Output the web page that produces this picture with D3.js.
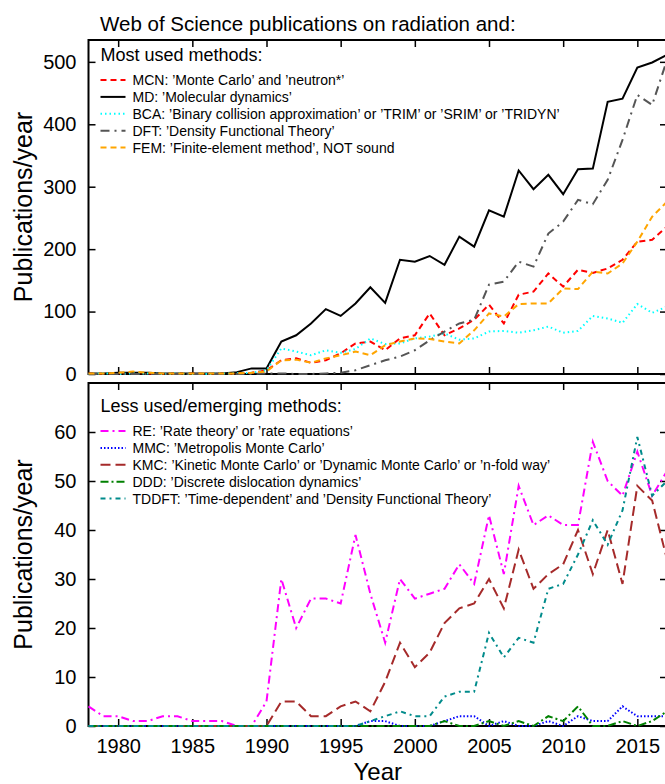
<!DOCTYPE html>
<html>
<head>
<meta charset="utf-8">
<script src="https://cdn.jsdelivr.net/npm/d3@7"></script>
<style>
  html, body { margin: 0; padding: 0; background: #fff; }
  svg { display: block; font-family: "Liberation Sans", Arial, Helvetica, sans-serif; }
</style>
</head>
<body>
<svg id="chart" width="665" height="784"></svg>
<script>
// Publication years (one value per year, 1978-2017)
const years = d3.range(1978, 2018);
const xTickValues = [1980, 1985, 1990, 1995, 2000, 2005, 2010, 2015];
const topTickValues = [0, 100, 200, 300, 400, 500];
const bottomTickValues = [0, 10, 20, 30, 40, 50, 60];

// Most used methods
const mcn = [1,0,1,2,1,0,1,1,0,1,1,2,6,22,25,18,22,33,49,52,38,57,62,97,62,73,87,111,81,127,132,161,140,167,162,169,183,212,215,236];
const md  = [1,1,2,2,2,1,1,1,1,1,3,9,9,52,62,81,104,93,113,139,114,183,180,189,175,220,204,262,252,326,296,319,288,328,329,436,441,491,499,511];
const bca = [0,1,0,1,1,0,1,0,0,1,1,2,6,41,36,30,38,34,40,57,48,49,57,60,65,55,57,68,69,66,70,76,66,69,93,89,82,112,98,108];
const dft = [0,0,0,0,0,0,0,0,0,0,0,0,1,1,0,0,1,2,6,14,22,28,38,54,68,81,87,143,148,180,172,225,244,279,272,311,375,447,431,503];
const fem = [1,1,2,4,2,1,1,1,1,1,1,2,4,22,23,18,25,30,36,30,46,52,57,56,52,49,70,97,92,112,113,113,137,136,164,161,177,212,252,276];

// Less used / emerging methods
const re    = [4,2,2,1,1,2,2,1,1,1,0,0,5,30,20,26,26,25,39,27,17,30,26,27,28,33,29,43,31,49,41,43,41,41,58,50,47,56,47,52];
const mmc   = [0,0,0,0,0,0,0,0,0,0,0,0,0,0,0,0,0,0,0,1,1,0,0,0,1,2,2,0,1,0,0,1,0,2,1,1,4,2,2,2];
const kmc   = [0,0,0,0,0,0,0,0,0,0,0,0,0,5,5,2,2,4,5,3,9,17,12,15,21,24,25,30,24,36,28,31,33,40,31,40,29,49,46,34];
const ddd   = [0,0,0,0,0,0,0,0,0,0,0,0,0,0,0,0,0,0,0,0,0,0,0,0,1,0,0,1,0,1,0,2,1,4,0,0,1,0,1,3];
const tddft = [0,0,0,0,0,0,0,0,0,0,0,0,0,0,0,0,0,0,0,1,2,3,2,2,6,7,7,19,14,18,17,28,29,35,42,37,44,59,47,50];

const topSeries = [
  { label: "MCN: \u2019Monte Carlo\u2019 and \u2019neutron*\u2019", values: mcn, color: "#ff0000", dash: "6,4" },
  { label: "MD: \u2019Molecular dynamics\u2019", values: md, color: "#000000", dash: null },
  { label: "BCA: \u2019Binary collision approximation\u2019 or \u2019TRIM\u2019 or \u2019SRIM\u2019 or \u2019TRIDYN\u2019", values: bca, color: "#00ffff", dash: "1.5,3" },
  { label: "DFT: \u2019Density Functional Theory\u2019", values: dft, color: "#555555", dash: "9,5,2,5" },
  { label: "FEM: \u2019Finite-element method\u2019, NOT sound", values: fem, color: "#ffa500", dash: "6,4" }
];
const bottomSeries = [
  { label: "RE: \u2019Rate theory\u2019 or \u2019rate equations\u2019", values: re, color: "#ff00ff", dash: "8,4,2,4" },
  { label: "MMC: \u2019Metropolis Monte Carlo\u2019", values: mmc, color: "#0000ff", dash: "1.5,2" },
  { label: "KMC: \u2019Kinetic Monte Carlo\u2019 or \u2019Dynamic Monte Carlo\u2019 or \u2019n-fold way\u2019", values: kmc, color: "#a52a2a", dash: "10,5" },
  { label: "DDD: \u2019Discrete dislocation dynamics\u2019", values: ddd, color: "#008000", dash: "8,3,2,3" },
  { label: "TDDFT: \u2019Time-dependent\u2019 and \u2019Density Functional Theory\u2019", values: tddft, color: "#008b8b", dash: "5,4,2,4" }
];

const svg = d3.select("#chart");
svg.append("rect").attr("width", 665).attr("height", 784).attr("fill", "#fff");

const left = 88.5, right = 667;
const x = d3.scaleLinear().domain([1978, 2017]).range([left, right]);

svg.append("text")
  .attr("x", 100).attr("y", 31)
  .attr("font-size", 20.5)
  .text("Web of Science publications on radiation and:");

function drawPanel(opts) {
  const { y, yTicks, series, header, headerY, showXLabels } = opts;
  const [y0, y1] = y.range();
  const g = svg.append("g");

  // frame
  g.append("rect")
    .attr("x", left).attr("y", y1)
    .attr("width", right - left).attr("height", y0 - y1)
    .attr("fill", "none").attr("stroke", "#000").attr("stroke-width", 2);

  const styleAxis = sel => {
    sel.select(".domain").remove();
    sel.selectAll(".tick line").attr("stroke", "#000").attr("stroke-width", 1.5);
    sel.selectAll(".tick text").attr("fill", "#000").attr("font-size", 20)
      .attr("font-family", "\"Liberation Sans\", Arial, Helvetica, sans-serif");
  };

  g.append("g").attr("transform", `translate(${left},0)`)
    .call(d3.axisLeft(y).tickValues(yTicks).tickSize(-7).tickPadding(12).tickFormat(d3.format("d")))
    .call(styleAxis);
  g.append("g").attr("transform", `translate(${right},0)`)
    .call(d3.axisRight(y).tickValues(yTicks).tickSize(-7).tickFormat(""))
    .call(styleAxis);
  g.append("g").attr("transform", `translate(0,${y1})`)
    .call(d3.axisTop(x).tickValues(xTickValues).tickSize(-7).tickFormat(""))
    .call(styleAxis);
  g.append("g").attr("transform", `translate(0,${y0})`)
    .call(d3.axisBottom(x).tickValues(xTickValues).tickSize(-7).tickPadding(13)
      .tickFormat(showXLabels ? d3.format("d") : ""))
    .call(styleAxis);

  // data lines
  const line = d3.line().x((d, i) => x(years[i])).y(d => y(d));
  series.forEach(s => {
    g.append("path")
      .datum(s.values)
      .attr("d", line)
      .attr("fill", "none")
      .attr("stroke", s.color)
      .attr("stroke-width", 2)
      .attr("stroke-dasharray", s.dash)
      .attr("stroke-linejoin", "miter");
  });

  // legend
  g.append("text").attr("x", 100.5).attr("y", headerY)
    .attr("font-size", 18).text(header);
  series.forEach((s, i) => {
    const by = headerY + 24.5 + i * 16.9;
    g.append("line")
      .attr("x1", 100.5).attr("x2", 125.5)
      .attr("y1", by - 5).attr("y2", by - 5)
      .attr("stroke", s.color).attr("stroke-width", 2)
      .attr("stroke-dasharray", s.dash);
    g.append("text").attr("x", 132.5).attr("y", by)
      .attr("font-size", 14).text(s.label);
  });

  // y axis title
  const cy = (y0 + y1) / 2;
  g.append("text")
    .attr("transform", `translate(32,${cy}) rotate(-90)`)
    .attr("text-anchor", "middle")
    .attr("font-size", 25)
    .text("Publications/year");
}

drawPanel({
  y: d3.scaleLinear().domain([0, 535]).range([374, 40]),
  yTicks: topTickValues, series: topSeries,
  header: "Most used methods:", headerY: 60.5, showXLabels: false
});
drawPanel({
  y: d3.scaleLinear().domain([0, 70]).range([726, 383]),
  yTicks: bottomTickValues, series: bottomSeries,
  header: "Less used/emerging methods:", headerY: 411.5, showXLabels: true
});

svg.append("text")
  .attr("x", (left + right) / 2).attr("y", 780)
  .attr("text-anchor", "middle")
  .attr("font-size", 24)
  .text("Year");
</script>
</body>
</html>
